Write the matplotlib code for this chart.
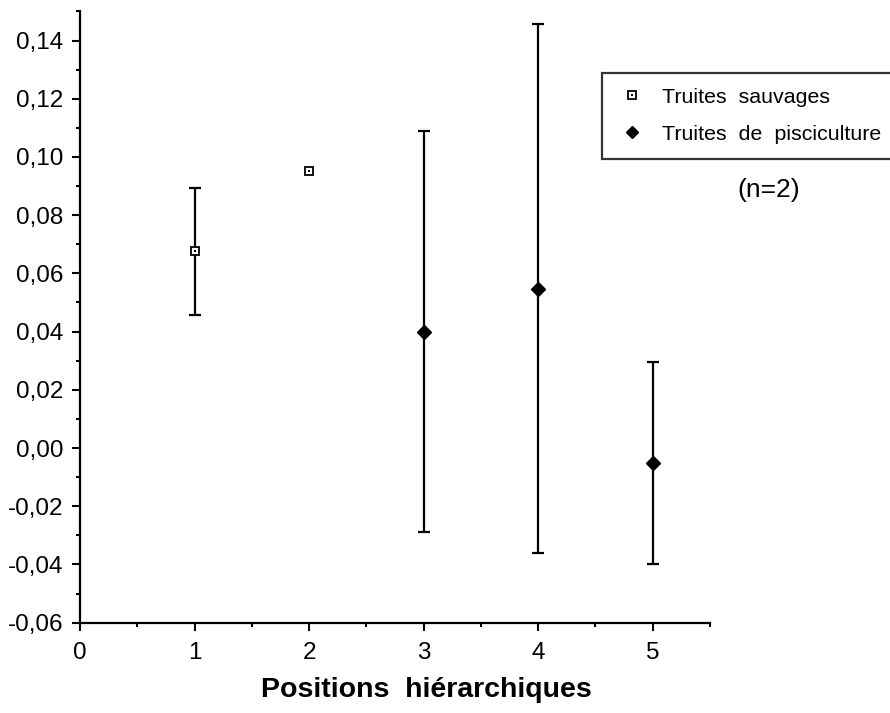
import numpy as np
import matplotlib
matplotlib.use("Agg")
import matplotlib.pyplot as plt
from matplotlib.ticker import FuncFormatter, MultipleLocator
from matplotlib.lines import Line2D

plt.rcParams['font.family'] = ['Liberation Sans', 'DejaVu Sans']

# Data
pos_sauvages = [1, 2]
moy_sauvages = [0.0676, 0.0953]
err_sauvages = [0.0218, 0.0]
pos_pisci = [3, 4, 5]
moy_pisci = [0.0400, 0.0548, -0.0051]
err_pisci = [0.0688, 0.0909, 0.0346]

label_sauvages = "Truites  sauvages"
label_pisci = "Truites  de  pisciculture"
xlabel = "Positions  hiérarchiques"
note = "(n=2)"

fig = plt.figure(figsize=(8.9, 7.13), dpi=100)
ax = fig.add_axes([80/890, 1-622.7/713, (710-80)/890, (622.7-11.4)/713])

ebkw = dict(fmt='none', ecolor='black', elinewidth=1.6, capsize=4.2, capthick=1.6, zorder=2)

# error bars only where an error exists
xs = [x for x, e in zip(pos_sauvages, err_sauvages) if e > 0]
ys = [y for y, e in zip(moy_sauvages, err_sauvages) if e > 0]
es = [e for e in err_sauvages if e > 0]
ax.errorbar(xs, ys, yerr=es, **ebkw)
ax.errorbar(pos_pisci, moy_pisci, yerr=err_pisci, **ebkw)

ax.plot(pos_sauvages, moy_sauvages, ls='none', marker='s', ms=6.2, mfc='white',
        mec='black', mew=1.3, zorder=3)
ax.plot(pos_sauvages, moy_sauvages, ls='none', marker='s', ms=1.6, mfc='black',
        mec='black', mew=0, zorder=4)
ax.plot(pos_pisci, moy_pisci, ls='none', marker='D', ms=7.2, mfc='black',
        mec='black', zorder=3)

ax.set_xlim(0, 5.5)
ax.set_ylim(-0.06, 0.15)
for s in ['top', 'right']:
    ax.spines[s].set_visible(False)
for s in ['left', 'bottom']:
    ax.spines[s].set_linewidth(1.6)

ax.xaxis.set_major_locator(MultipleLocator(1))
ax.xaxis.set_minor_locator(MultipleLocator(0.5))
ax.yaxis.set_major_locator(MultipleLocator(0.02))
ax.yaxis.set_minor_locator(MultipleLocator(0.01))
ax.yaxis.set_major_formatter(FuncFormatter(
    lambda v, p: f"{round(v, 4):.2f}".replace('.', ',').replace('-0,00', '0,00')))
ax.xaxis.set_major_formatter(FuncFormatter(lambda v, p: f"{int(round(v))}"))

ax.tick_params(axis='both', which='major', direction='out', length=6, width=1.5,
               labelsize=17.5, colors='black')
ax.tick_params(axis='both', which='minor', direction='out', length=3, width=1.5)
ax.tick_params(axis='y', which='major', pad=6)
ax.tick_params(axis='x', which='major', pad=8)

fig.text(426/890, 1-690/713, xlabel, ha='center', va='center', fontsize=20.5,
         fontweight='bold')

# Legend
h1 = (Line2D([], [], ls='none', marker='s', ms=6.0, mfc='white', mec='black', mew=1.3),
      Line2D([], [], ls='none', marker='s', ms=1.6, mfc='black', mec='black', mew=0))
h2 = Line2D([], [], ls='none', marker='D', ms=6.5, mfc='black', mec='black')
leg = fig.legend([h1, h2], [label_sauvages, label_pisci], loc='upper left',
                 bbox_to_anchor=(602/890, 1-72.7/713), borderaxespad=0,
                 frameon=True, fancybox=False, shadow=False, fontsize=15.4,
                 handlelength=1.4, handletextpad=0.7, borderpad=0.7,
                 labelspacing=0.84)
leg.get_frame().set_edgecolor('black')
leg.get_frame().set_linewidth(1.6)

fig.text(769/890, 1-190/713, note, ha='center', va='center', fontsize=19)

fig.savefig("out.png", dpi=100)
